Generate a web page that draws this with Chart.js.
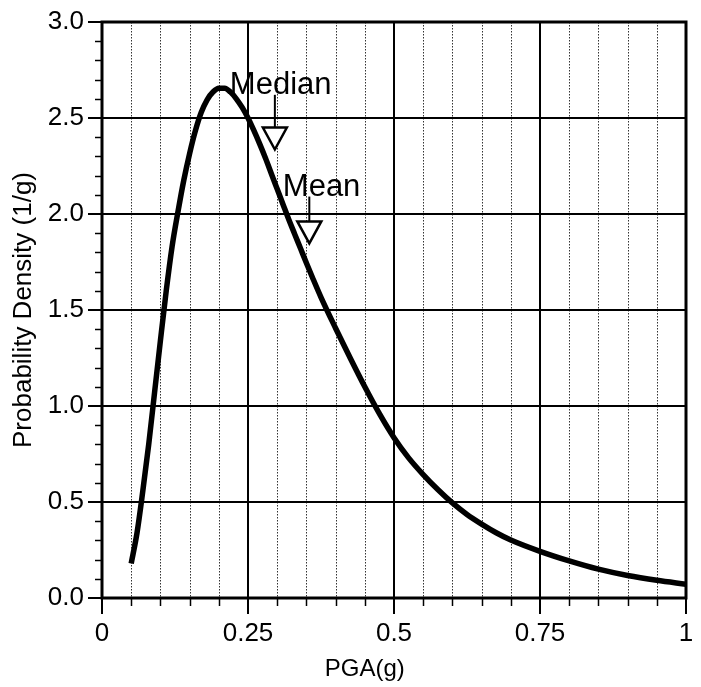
<!DOCTYPE html>
<html>
<head>
<meta charset="utf-8">
<script src="https://cdn.jsdelivr.net/npm/chart.js@4.4.0/dist/chart.umd.min.js"></script>
<style>
  html, body { margin: 0; padding: 0; background: #fff; }
  #wrap { width: 701px; height: 687px; }
</style>
</head>
<body>
<div id="wrap"><canvas id="pdfChart" width="701" height="687"></canvas></div>
<script>
// ====== DATA ======
const pga = [0.05, 0.06, 0.07, 0.08, 0.09, 0.10, 0.11, 0.12, 0.13, 0.14, 0.15, 0.16, 0.17, 0.18, 0.19,
  0.20, 0.21, 0.22, 0.23, 0.24, 0.25, 0.26, 0.27, 0.28, 0.29, 0.30, 0.31, 0.32, 0.33, 0.34, 0.35, 0.36,
  0.375, 0.40, 0.425, 0.45, 0.475, 0.50, 0.525, 0.55, 0.575, 0.60, 0.625, 0.65, 0.675, 0.70,
  0.75, 0.80, 0.85, 0.90, 0.95, 1.00];
const density = [0.18, 0.34, 0.56, 0.80, 1.07, 1.34, 1.60, 1.83, 2.01, 2.175, 2.315, 2.435, 2.53, 2.595, 2.635,
  2.655, 2.655, 2.635, 2.60, 2.555, 2.50, 2.435, 2.365, 2.29, 2.21, 2.13, 2.05, 1.97, 1.895, 1.82, 1.745, 1.672,
  1.566, 1.405, 1.25, 1.10, 0.96, 0.835, 0.73, 0.643, 0.565, 0.495, 0.435, 0.385, 0.34, 0.302,
  0.243, 0.193, 0.15, 0.117, 0.092, 0.072];

const xMajorTicks = [0, 0.25, 0.5, 0.75, 1];
const xTickLabels = ["0", "0.25", "0.5", "0.75", "1"];
const xMinorTicks = [0.05, 0.1, 0.15, 0.2, 0.3, 0.35, 0.4, 0.45, 0.55, 0.6, 0.65, 0.7, 0.8, 0.85, 0.9, 0.95];
const yMajorTicks = [0, 0.5, 1, 1.5, 2, 2.5, 3];
const yMinorTicks = [0.1, 0.2, 0.3, 0.4, 0.6, 0.7, 0.8, 0.9, 1.1, 1.2, 1.3, 1.4, 1.6, 1.7, 1.8, 1.9,
  2.1, 2.2, 2.3, 2.4, 2.6, 2.7, 2.8, 2.9];

// Median / Mean markers: arrow x, triangle tip y, label centre x, label baseline y
const markerNames = ["Median", "Mean"];
const markerPGA = [0.296, 0.355];
const markerTip = [2.336, 1.847];
const markerLabelX = [0.306, 0.376];
const markerLabelY = [2.626, 2.096];

const xTitle = "PGA(g)";

// ====== STYLE ======
const FONT = "'Liberation Sans', Arial, sans-serif";

// ====== PLUGIN: grid, frame, tick marks, markers ======
const plotDecor = {
  id: "plotDecor",
  beforeDatasetsDraw(chart) {
    const { ctx, chartArea: a, scales: { x, y } } = chart;
    ctx.save();
    // dotted minor verticals
    ctx.strokeStyle = "#333";
    ctx.lineWidth = 1;
    ctx.setLineDash([1.5, 1.5]);
    xMinorTicks.forEach(v => {
      const px = Math.round(x.getPixelForValue(v)) + 0.5;
      ctx.beginPath(); ctx.moveTo(px, a.top); ctx.lineTo(px, a.bottom); ctx.stroke();
    });
    ctx.setLineDash([]);
    // solid major lines
    ctx.strokeStyle = "#000";
    ctx.lineWidth = 2;
    xMajorTicks.forEach(v => {
      const px = Math.round(x.getPixelForValue(v));
      ctx.beginPath(); ctx.moveTo(px, a.top); ctx.lineTo(px, a.bottom); ctx.stroke();
    });
    yMajorTicks.forEach(v => {
      const py = Math.round(y.getPixelForValue(v));
      ctx.beginPath(); ctx.moveTo(a.left, py); ctx.lineTo(a.right, py); ctx.stroke();
    });
    ctx.restore();
  },
  afterDatasetsDraw(chart) {
    const { ctx, chartArea: a, scales: { x, y } } = chart;
    ctx.save();
    ctx.strokeStyle = "#000";
    // frame
    ctx.lineWidth = 3;
    ctx.strokeRect(a.left, a.top, a.right - a.left, a.bottom - a.top);
    // x tick marks
    ctx.lineWidth = 2;
    xMajorTicks.forEach(v => {
      const px = Math.round(x.getPixelForValue(v));
      ctx.beginPath(); ctx.moveTo(px, a.bottom); ctx.lineTo(px, a.bottom + 16); ctx.stroke();
    });
    ctx.lineWidth = 1.5;
    xMinorTicks.forEach(v => {
      const px = Math.round(x.getPixelForValue(v)) + 0.5;
      ctx.beginPath(); ctx.moveTo(px, a.bottom); ctx.lineTo(px, a.bottom + 8); ctx.stroke();
    });
    // y tick marks
    ctx.lineWidth = 2;
    yMajorTicks.forEach(v => {
      const py = Math.round(y.getPixelForValue(v));
      ctx.beginPath(); ctx.moveTo(a.left - 14, py); ctx.lineTo(a.left, py); ctx.stroke();
    });
    ctx.lineWidth = 1.5;
    yMinorTicks.forEach(v => {
      const py = Math.round(y.getPixelForValue(v)) + 0.5;
      ctx.beginPath(); ctx.moveTo(a.left - 7, py); ctx.lineTo(a.left, py); ctx.stroke();
    });

    // median / mean arrows
    markerNames.forEach((name, i) => {
      const px = x.getPixelForValue(markerPGA[i]);
      const tip = y.getPixelForValue(markerTip[i]);
      const base = tip - 22;
      const labY = y.getPixelForValue(markerLabelY[i]);
      ctx.lineWidth = 2;
      ctx.beginPath(); ctx.moveTo(px, labY + 1); ctx.lineTo(px, base); ctx.stroke();
      ctx.beginPath();
      ctx.moveTo(px - 12, base); ctx.lineTo(px + 12, base); ctx.lineTo(px, tip); ctx.closePath();
      ctx.fillStyle = "#fff"; ctx.fill();
      ctx.lineWidth = 2.5; ctx.stroke();
      ctx.fillStyle = "#000";
      ctx.font = "31px " + FONT;
      ctx.textAlign = "center";
      ctx.textBaseline = "alphabetic";
      ctx.fillText(name, x.getPixelForValue(markerLabelX[i]), labY);
    });

    // x axis title sits a little left of the plot centre in the original
    ctx.fillStyle = "#000";
    ctx.font = "24px " + FONT;
    ctx.textAlign = "center";
    ctx.textBaseline = "alphabetic";
    ctx.fillText(xTitle, a.left + (a.right - a.left) * 0.45, a.bottom + 78);
    ctx.restore();
  }
};

// ====== CHART ======
const points = pga.map((v, i) => ({ x: v, y: density[i] }));

// invisible tick marks only serve to push the labels away from the axis
const hiddenGrid = (len) => ({
  display: true, drawOnChartArea: false, drawTicks: true,
  tickLength: len, color: "rgba(0,0,0,0)"
});

new Chart(document.getElementById("pdfChart"), {
  type: "line",
  data: {
    datasets: [{
      label: "PDF",
      data: points,
      borderColor: "#000",
      borderWidth: 5.5,
      pointRadius: 0,
      fill: false,
      cubicInterpolationMode: "monotone"
    }]
  },
  options: {
    responsive: false,
    animation: false,
    layout: { padding: { top: 22, right: 15, left: 0, bottom: 0 } },
    plugins: { legend: { display: false }, tooltip: { enabled: false } },
    scales: {
      x: {
        type: "linear",
        min: 0, max: 1,
        grid: hiddenGrid(20),
        border: { display: false },
        ticks: {
          stepSize: 0.25,
          padding: 0,
          color: "#000",
          font: { family: FONT, size: 26 },
          maxRotation: 0,
          callback: (v) => {
            const k = xMajorTicks.findIndex(t => Math.abs(t - v) < 1e-6);
            return k >= 0 ? xTickLabels[k] : "";
          }
        },
        title: { display: false },
        afterFit: (s) => { s.height = 89; }
      },
      y: {
        min: 0, max: 3,
        grid: hiddenGrid(18),
        border: { display: false },
        ticks: {
          stepSize: 0.5,
          padding: 0,
          color: "#000",
          font: { family: FONT, size: 26 },
          callback: (v) => Number(v).toFixed(1)
        },
        title: {
          display: true, text: "Probability Density (1/g)", color: "#000",
          font: { family: FONT, size: 26 },
          padding: { top: 8, bottom: 0 }
        },
        afterFit: (s) => { s.width = 102; }
      }
    }
  },
  plugins: [plotDecor]
});
</script>
</body>
</html>
